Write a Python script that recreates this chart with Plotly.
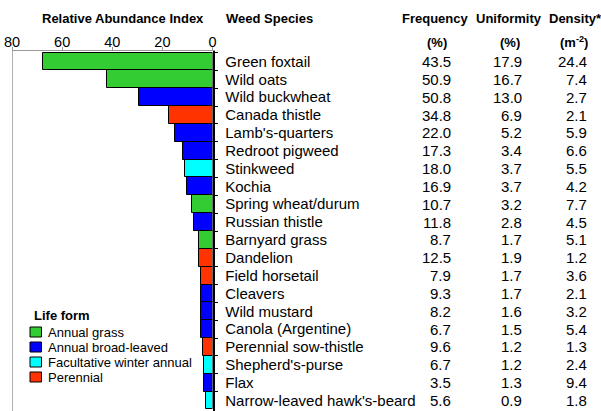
import plotly.graph_objects as go

species = ["Green foxtail", "Wild oats", "Wild buckwheat", "Canada thistle", "Lamb's-quarters",
           "Redroot pigweed", "Stinkweed", "Kochia", "Spring wheat/durum", "Russian thistle",
           "Barnyard grass", "Dandelion", "Field horsetail", "Cleavers", "Wild mustard",
           "Canola (Argentine)", "Perennial sow-thistle", "Shepherd's-purse", "Flax",
           "Narrow-leaved hawk's-beard"]
life_form = ["Annual grass", "Annual grass", "Annual broad-leaved", "Perennial", "Annual broad-leaved",
             "Annual broad-leaved", "Facultative winter annual", "Annual broad-leaved", "Annual grass",
             "Annual broad-leaved", "Annual grass", "Perennial", "Perennial", "Annual broad-leaved",
             "Annual broad-leaved", "Annual broad-leaved", "Perennial", "Facultative winter annual",
             "Annual broad-leaved", "Facultative winter annual"]
abundance = [67.5, 42.0, 29.2, 17.2, 15.1, 11.7, 11.1, 10.1, 8.3, 7.3,
             5.3, 5.2, 4.5, 4.5, 4.5, 4.5, 3.7, 3.3, 3.3, 2.5]
frequency = [43.5, 50.9, 50.8, 34.8, 22.0, 17.3, 18.0, 16.9, 10.7, 11.8,
             8.7, 12.5, 7.9, 9.3, 8.2, 6.7, 9.6, 6.7, 3.5, 5.6]
uniformity = [17.9, 16.7, 13.0, 6.9, 5.2, 3.4, 3.7, 3.7, 3.2, 2.8,
              1.7, 1.9, 1.7, 1.7, 1.6, 1.5, 1.2, 1.2, 1.3, 0.9]
density = [24.4, 7.4, 2.7, 2.1, 5.9, 6.6, 5.5, 4.2, 7.7, 4.5,
           5.1, 1.2, 3.6, 2.1, 3.2, 5.4, 1.3, 2.4, 9.4, 1.8]
forms = ["Annual grass", "Annual broad-leaved", "Facultative winter annual", "Perennial"]
form_colors = ["#33CC33", "#0000FF", "#00FFFF", "#FF3300"]
x_ticks = [80, 60, 40, 20, 0]

W, H = 601, 411
TOP, BOT = 51, 411
FONT = "Arial, Liberation Sans, sans-serif"


def px(xp):
    return xp / W


def py(yp):
    return (BOT - yp) / (BOT - TOP)


fig = go.Figure()
for form, col in zip(forms, form_colors):
    ys = [s for s, f in zip(species, life_form) if f == form]
    xs = [a for a, f in zip(abundance, life_form) if f == form]
    fig.add_trace(go.Bar(x=xs, y=ys, orientation="h", name=form,
                         marker=dict(color=col, line=dict(color="black", width=1)),
                         showlegend=False, hoverinfo="x+y"))

annotations = []
cols = [(frequency, 452.7), (uniformity, 524), (density, 589)]
for vals, xr in cols:
    for s, v in zip(species, vals):
        annotations.append(dict(x=px(xr), xref="paper", y=s, yref="y", text=f"{v:.1f}",
                                xanchor="right", yanchor="middle", showarrow=False,
                                font=dict(family=FONT, size=15, color="black")))

headers = [("Relative Abundance Index", 123, 18, "center"),
           ("Weed Species", 224, 18, "left"),
           ("Frequency", 435, 18, "center"),
           ("Uniformity", 509, 18, "center"),
           ("Density*", 575, 18, "center")]
for t, x, y, anc in headers:
    annotations.append(dict(x=px(x), xref="paper", y=py(y), yref="paper", text=f"<b>{t}</b>",
                            xanchor=anc, yanchor="middle", showarrow=False,
                            font=dict(family=FONT, size=13, color="black")))
units = [("<b>(%)</b>", 437), ("<b>(%)</b>", 510), ("<b>(m<sup>-2</sup>)</b>", 574)]
for t, x in units:
    annotations.append(dict(x=px(x), xref="paper", y=py(42), yref="paper", text=t,
                            xanchor="center", yanchor="middle", showarrow=False,
                            font=dict(family=FONT, size=13, color="black")))

# legend (drawn manually to match the compact spacing)
shapes = []
annotations.append(dict(x=px(32), xref="paper", y=py(315), yref="paper", text="<b>Life form</b>",
                        xanchor="left", yanchor="middle", showarrow=False,
                        font=dict(family=FONT, size=13, color="black")))
for i, (form, col) in enumerate(zip(forms, form_colors)):
    yc = 332 + 15 * i
    shapes.append(dict(type="rect", xref="paper", yref="paper",
                       x0=px(30), x1=px(41.5), y0=py(yc - 5), y1=py(yc + 5),
                       fillcolor=col, line=dict(color="black", width=1)))
    annotations.append(dict(x=px(46), xref="paper", y=py(yc), yref="paper", text=form,
                            xanchor="left", yanchor="middle", showarrow=False,
                            font=dict(family=FONT, size=13, color="black")))

# left gray frame line
shapes.append(dict(type="line", xref="x", yref="paper", x0=80, x1=80, y0=0, y1=1,
                   line=dict(color="#999999", width=1.5)))

fig.update_layout(
    width=W, height=H,
    margin=dict(l=0, r=0, t=TOP, b=0, autoexpand=False),
    paper_bgcolor="white", plot_bgcolor="white",
    barmode="overlay", bargap=0,
    showlegend=False,
    annotations=annotations, shapes=shapes,
    font=dict(family=FONT, color="black"),
    xaxis=dict(domain=[px(12), px(212.5)], range=[80, 0], side="top",
               tickvals=x_ticks, ticktext=[str(t) for t in x_ticks],
               ticks="outside", ticklen=3, tickcolor="#999999",
               showline=True, linecolor="#999999", linewidth=1,
               showgrid=False, zeroline=False, automargin=False,
               ticklabelstandoff=-6,
               tickfont=dict(family=FONT, size=14.5, color="black")),
    yaxis=dict(side="right", categoryorder="array", categoryarray=species,
               autorange="reversed", tickson="boundaries",
               tickmode="linear", dtick=1, tick0=0,
               ticks="outside", ticklen=4, tickcolor="black",
               showline=True, linecolor="black", linewidth=1.5,
               showgrid=False, zeroline=False, automargin=False,
               ticklabelstandoff=8,
               tickfont=dict(family=FONT, size=15, color="black")),
)

fig.write_html("out.html", config={"displayModeBar": False},
               post_script="document.body.style.margin='0';document.body.style.overflow='hidden';")
